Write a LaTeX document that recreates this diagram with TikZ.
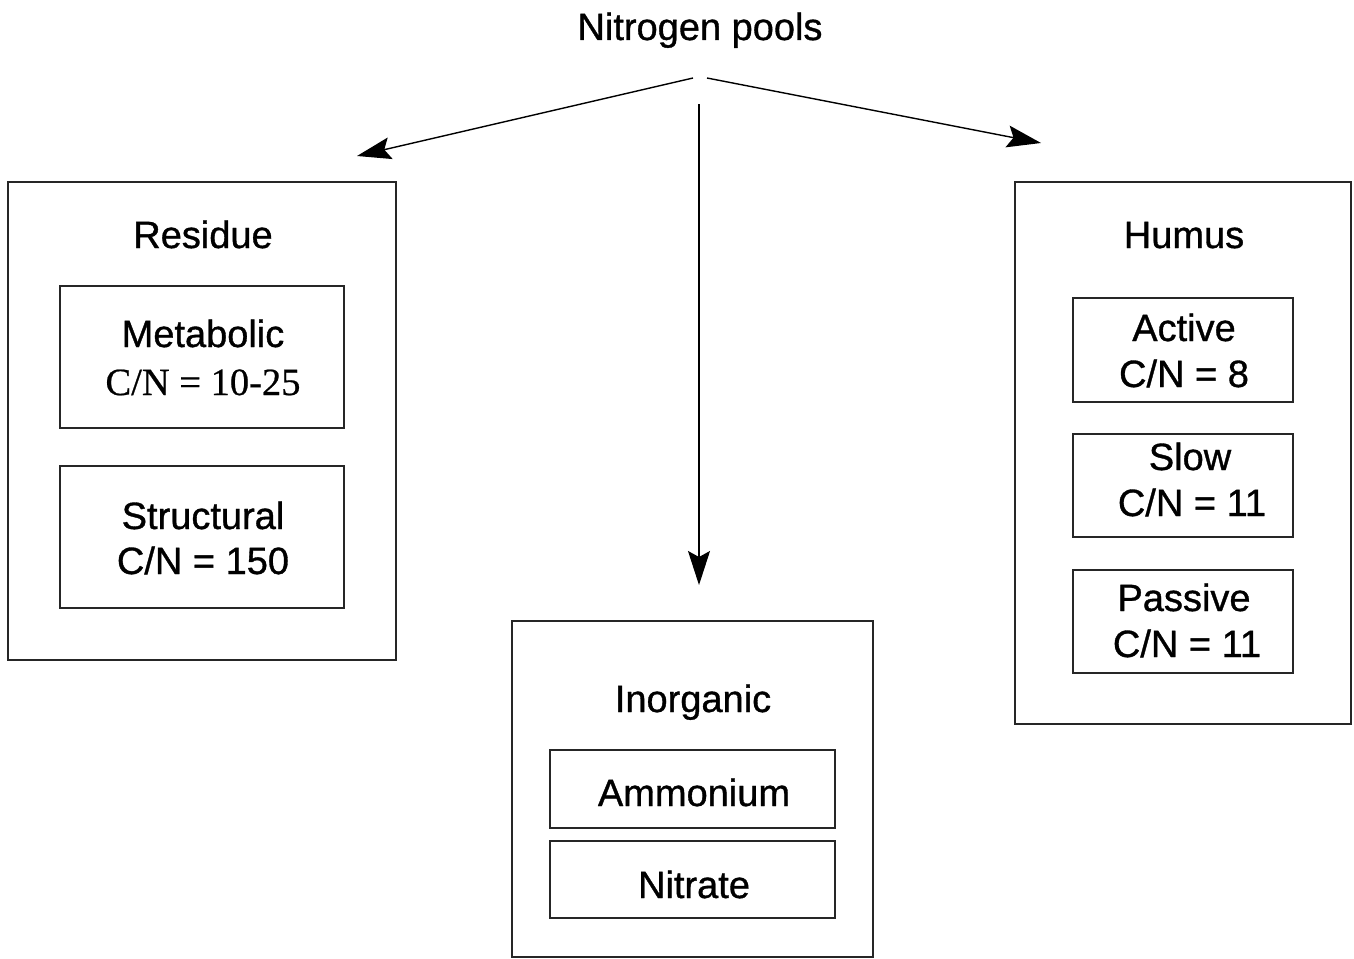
\documentclass[tikz,border=0pt]{standalone}
\usepackage{fontspec}
\setmainfont{Liberation Sans}[FakeBold=0.9]
\newfontfamily\serifcn{Liberation Serif}[FakeBold=0.6]
\usetikzlibrary{arrows.meta}
\begin{document}
\begin{tikzpicture}[x=1pt,y=-1pt,
  every node/.style={font=\fontsize{38}{44}\selectfont, inner sep=0pt},
  pool/.style={draw=black!85, line width=1.4pt},
  label/.style={anchor=base},
  link/.style={line width=1.4pt, -{Stealth[length=34pt,width=22pt,inset=6pt]}}]
\useasboundingbox (0,0) rectangle (1354,958);

% title
\node[label] (title) at (700,40) {Nitrogen pools};

% outer pools
\node[pool, minimum width=388pt, minimum height=478pt] (residue) at (202,421) {};
\node[pool, minimum width=361pt, minimum height=336pt] (inorg) at (692.5,789) {};
\node[pool, minimum width=336pt, minimum height=542pt] (humus) at (1183,453) {};

% residue sub-pools
\node[pool, minimum width=284pt, minimum height=142pt] (metab) at (202,357) {};
\node[pool, minimum width=284pt, minimum height=142pt] (struct) at (202,537) {};

% inorganic sub-pools
\node[pool, minimum width=285pt, minimum height=78pt] (ammon) at (692.5,789) {};
\node[pool, minimum width=285pt, minimum height=77pt] (nitra) at (692.5,879.5) {};

% humus sub-pools
\node[pool, minimum width=220pt, minimum height=104pt] (active) at (1183,350) {};
\node[pool, minimum width=220pt, minimum height=103pt] (slow) at (1183,485.5) {};
\node[pool, minimum width=220pt, minimum height=103pt] (passive) at (1183,621.5) {};

% labels
\node[label] at (203,248) {Residue};
\node[label] at (203,347) {Metabolic};
\node[label] at (203,395) {\serifcn\fontsize{38.5}{44}\selectfont C/N = 10-25};
\node[label] at (203,529) {Structural};
\node[label] at (203,574) {C/N = 150};

\node[label] at (693,712) {Inorganic};
\node[label] at (694,806) {Ammonium};
\node[label] at (694,898) {Nitrate};

\node[label] at (1184,248) {Humus};
\node[label] at (1184,341) {Active};
\node[label] at (1184,387) {C/N = 8};
\node[label] at (1190,470) {Slow};
\node[label] at (1192,516) {C/N = 11};
\node[label] at (1184,611) {Passive};
\node[label] at (1187,657) {C/N = 11};

% connectors
\coordinate (srcL) at (693,78);
\coordinate (srcR) at (707,78);
\coordinate (srcD) at (699,104);
\coordinate (tipL) at (357,156);
\coordinate (tipR) at (1041,143);
\coordinate (tipD) at (699,585);
\draw[link] (srcL) -- (tipL);
\draw[link] (srcR) -- (tipR);
\draw[link, line width=1.2pt] (srcD) -- (tipD);
\end{tikzpicture}
\end{document}
